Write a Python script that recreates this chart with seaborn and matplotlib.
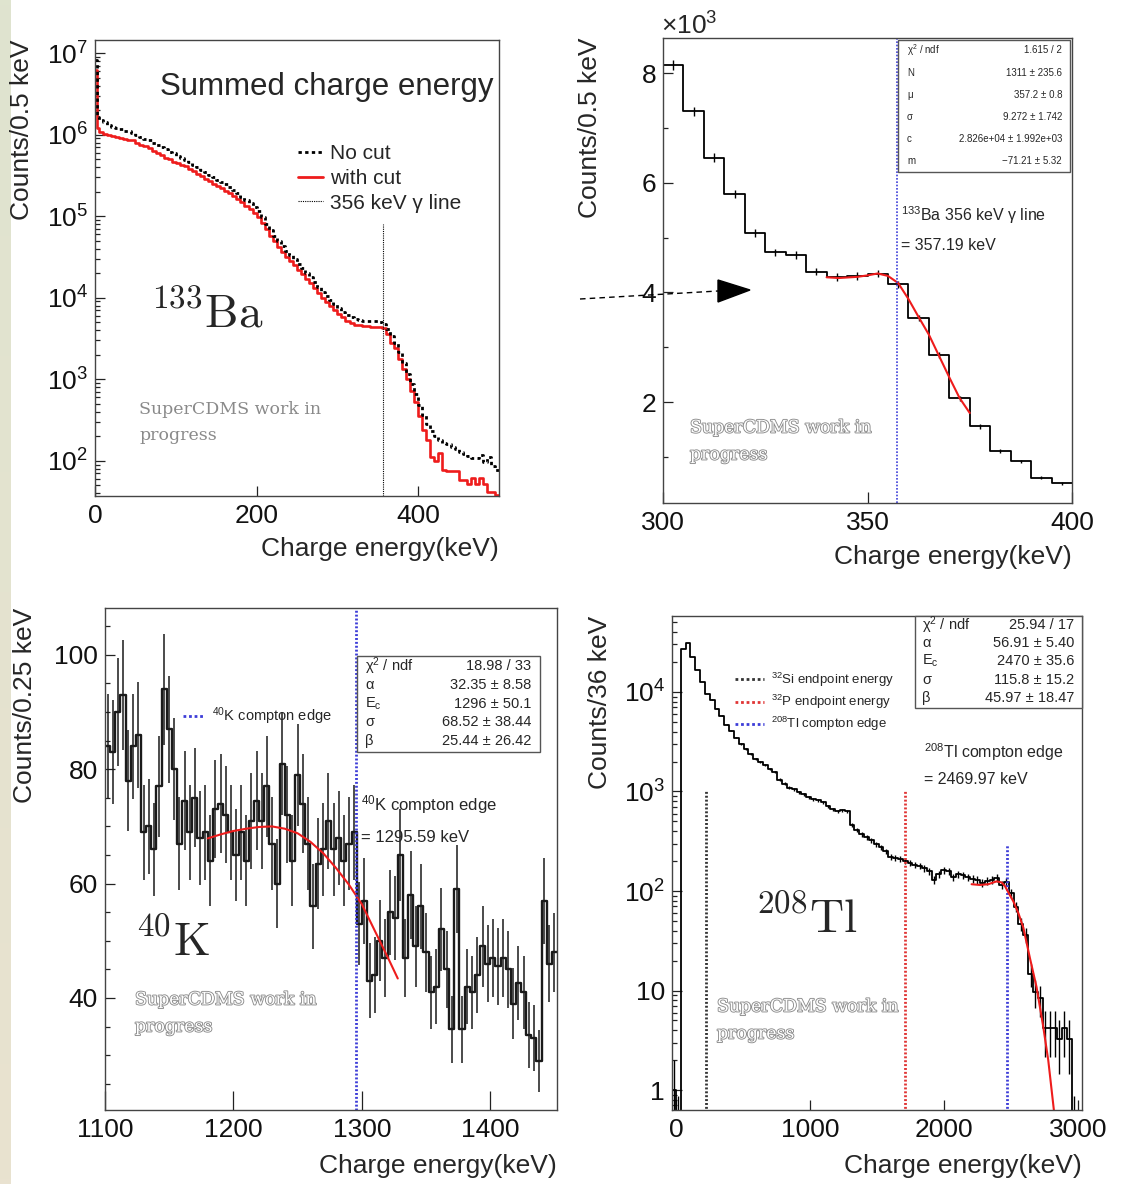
import numpy as np
import matplotlib
matplotlib.use("Agg")
import matplotlib.pyplot as plt
import matplotlib.patheffects as pe
from matplotlib.colors import LinearSegmentedColormap
from matplotlib.lines import Line2D
from matplotlib.patches import Polygon, Rectangle
from matplotlib.ticker import FuncFormatter, LogLocator, MultipleLocator, NullFormatter, NullLocator
import seaborn as sns

# ==========================================
# Data
# ==========================================

# --- 133Ba summed charge energy (log10 counts / bin) ---
ba_edges = [0, 2] + list(range(5, 505, 5))
ba_cut_log = [6.79, 6.08,
              6.03, 6.01, 6.00, 5.98, 5.97, 5.96, 5.95, 5.94, 5.93, 5.90,
              5.87, 5.86, 5.84, 5.80, 5.78, 5.75, 5.72, 5.70, 5.67, 5.65,
              5.63, 5.61, 5.58, 5.55, 5.52, 5.49, 5.46, 5.43, 5.40, 5.37,
              5.34, 5.31, 5.28, 5.25, 5.21, 5.17, 5.13, 5.09, 5.04, 4.99,
              4.92, 4.84, 4.76, 4.69, 4.62, 4.56, 4.50, 4.45, 4.40, 4.34,
              4.29, 4.23, 4.18, 4.12, 4.06, 4.00, 3.95, 3.90, 3.85, 3.80,
              3.76, 3.72, 3.69, 3.67, 3.66, 3.65, 3.65, 3.64, 3.64, 3.64,
              3.63, 3.55, 3.45, 3.38, 3.25, 3.12, 3.00, 2.86, 2.72, 2.55,
              2.38, 2.25, 2.05, 2.00, 2.10, 1.89, 1.88, 1.87, 1.87, 1.77,
              1.77, 1.71, 1.79, 1.71, 1.79, 1.71, 1.62, 1.62, 1.58]
ba_nocut_log = [6.92, 6.22,
                6.18, 6.15, 6.12, 6.10, 6.08, 6.07, 6.05, 6.04, 6.02, 6.00,
                5.97, 5.95, 5.93, 5.90, 5.87, 5.85, 5.82, 5.79, 5.77, 5.74,
                5.72, 5.69, 5.66, 5.63, 5.60, 5.57, 5.54, 5.51, 5.48, 5.45,
                5.42, 5.39, 5.36, 5.32, 5.28, 5.24, 5.20, 5.16, 5.11, 5.06,
                4.99, 4.91, 4.83, 4.76, 4.69, 4.63, 4.57, 4.52, 4.47, 4.41,
                4.36, 4.30, 4.25, 4.19, 4.13, 4.07, 4.02, 3.97, 3.92, 3.87,
                3.83, 3.79, 3.76, 3.74, 3.73, 3.72, 3.72, 3.71, 3.71, 3.70,
                3.68, 3.62, 3.53, 3.45, 3.33, 3.20, 3.07, 2.94, 2.82, 2.68,
                2.56, 2.45, 2.36, 2.30, 2.26, 2.22, 2.20, 2.17, 2.14, 2.11,
                2.08, 2.06, 2.04, 2.03, 2.07, 1.98, 2.05, 1.94, 1.89]
ba_gamma = 356
ba_gamma_top = 8e4

# --- 133Ba zoom, 300-400 keV ---
bz_edges = list(range(300, 405, 5))
bz_counts = [8150, 7300, 6460, 5800, 5090, 4730, 4680, 4380, 4280, 4300,
             4340, 4150, 3530, 2850, 2070, 1555, 1110, 915, 620, 515]
bz_fit_x = [340, 343, 347.5, 350, 352.5, 355, 357.5, 360, 362.5, 365, 367.5, 370, 372.5, 375]
bz_fit_y = [4275, 4262, 4283, 4310, 4345, 4300, 4170, 3880, 3550, 3230, 2840, 2450, 2075, 1800]
bz_mu = 357.19
bz_stats = [("χ$\\mathregular{^2}$ / ndf", "1.615 / 2"), ("N", "1311 ± 235.6"),
            ("μ", "357.2 ± 0.8"), ("σ", "9.272 ± 1.742"),
            ("c", "2.826e+04 ± 1.992e+03"), ("m", "−71.21 ± 5.32")]

# --- 40K compton edge ---
k_edges = list(range(1100, 1456, 4))
k_counts = [84, 83, 90, 93, 78, 84, 86, 69, 70, 66,
            77, 94, 87, 80, 67, 74.5, 69, 75, 68, 69,
            64, 73, 74, 72, 69, 65, 69, 64,
            71, 74.5, 71, 77, 67, 60, 81, 72, 64, 79,
            74, 67, 56, 63.5, 66, 71, 66, 68, 64, 67,
            69, 53, 57, 43, 44, 50, 47, 55, 54, 65,
            47, 58,
            49, 56, 48, 41, 42, 52, 45, 34.5, 59, 34.5,
            42, 41, 44, 49, 46, 47, 45.5, 47, 45, 39,
            42.6, 41, 33.5, 33, 29, 57, 46, 48]
k_fit_x = [1180, 1190, 1200, 1210, 1220, 1230, 1240, 1250, 1260, 1270, 1280, 1290, 1300, 1310, 1320, 1328]
k_fit_y = [67.9, 68.6, 69.2, 69.6, 69.9, 70.0, 69.6, 68.8, 67.3, 65.3, 62.7, 59.8, 56.4, 51.8, 47.2, 43.4]
k_edge = 1295.59
k_stats = [("χ$\\mathregular{^2}$ / ndf", "18.98 / 33"), ("α", "32.35 ± 8.58"),
           ("E$\\mathregular{_c}$", "1296 ± 50.1"), ("σ", "68.52 ± 38.44"), ("β", "25.44 ± 26.42")]

# --- 208Tl spectrum (log10 counts / 36 keV) ---
tl_edges = list(range(-36, 2989, 36))
tl_log = [0.0, -0.5,
          4.43, 4.49, 4.35, 4.22, 4.10, 3.98, 3.92, 3.83, 3.76, 3.67,
          3.61, 3.54, 3.48, 3.43, 3.38, 3.33, 3.30, 3.27, 3.23, 3.20,
          3.12, 3.08, 3.04, 3.02, 2.99, 2.97, 2.94, 2.92, 2.91, 2.89,
          2.85, 2.82, 2.80, 2.81, 2.80, 2.66, 2.61, 2.57, 2.54, 2.51,
          2.47, 2.44, 2.40,
          2.34, 2.33, 2.32, 2.30, 2.28, 2.26, 2.25, 2.23, 2.20, 2.11,
          2.17, 2.21, 2.20, 2.14, 2.17, 2.16, 2.14, 2.12, 2.11, 2.08,
          2.10, 2.11, 2.13, 2.06, 2.09, 1.98, 1.84, 1.67, 1.56, 1.17,
          0.99, 0.92, 0.62, 0.62, 0.62, 0.51, 0.62, 0.51,
          -0.5]
tl_fit_x = [2206, 2268, 2330, 2393, 2430, 2455, 2480, 2517, 2555, 2592, 2642, 2691, 2741, 2778, 2825]
tl_fit_y = [117, 115, 117, 125, 122, 112, 97, 79, 60, 43, 21, 10.8, 4.3, 2.0, 0.55]
tl_markers = [("$\\mathregular{^{32}}$Si endpoint energy", 227, 1000, "#333333"),
              ("$\\mathregular{^{32}}$P endpoint energy", 1710, 1000, "#e03535"),
              ("$\\mathregular{^{208}}$Tl compton edge", 2470, 290, "#3d3dd8")]
tl_stats = [("χ$\\mathregular{^2}$ / ndf", "25.94 / 17"), ("α", "56.91 ± 5.40"),
            ("E$\\mathregular{_c}$", "2470 ± 35.6"), ("σ", "115.8 ± 15.2"), ("β", "45.97 ± 18.47")]

RED = "#ee1c1c"
BLUE = "#3d3dd8"
DOTS = (0, (1, 1))
TICK_FS = 19
TITLE_FS = 19

sns.set_theme(style="ticks")
plt.rcParams["font.family"] = ["Liberation Sans", "DejaVu Sans"]
plt.rcParams["mathtext.fontset"] = "cm"

W, H = 1144, 1184
fig = plt.figure(figsize=(W / 100, H / 100), dpi=100)
fig.patch.set_facecolor("white")


def rect(l, t, r, b):
    return [l / W, 1 - b / H, (r - l) / W, (b - t) / H]


def ftext(x, y, s, **kw):
    kw.setdefault("va", "center")
    return fig.text(x / W, 1 - y / H, s, **kw)


def mids(edges):
    e = np.asarray(edges, dtype=float)
    return (e[:-1] + e[1:]) / 2


def root_style(ax, xlen=7, ylen=7):
    ax.set_facecolor("white")
    ax.tick_params(which="both", direction="in", top=False, right=False,
                   color="#222222", width=0.9, labelcolor="#111111")
    ax.tick_params(axis="x", which="major", length=xlen, pad=6, labelsize=TICK_FS)
    ax.tick_params(axis="y", which="major", length=ylen, pad=5, labelsize=TICK_FS)
    ax.tick_params(which="minor", length=3.5)
    for sp in ax.spines.values():
        sp.set_visible(True)
        sp.set_color("#444444")
        sp.set_linewidth(1.0)


def axis_titles(ax, ylabel, ylx, xly):
    ax.set_xlabel("Charge energy(keV)", fontsize=TITLE_FS, loc="right")
    ax.set_ylabel(ylabel, fontsize=TITLE_FS, loc="top")
    ax.xaxis.set_label_coords(1.0, xly)
    ax.yaxis.set_label_coords(ylx, 1.0)
    ax.xaxis.label.set_va("center")
    ax.yaxis.label.set_va("center")


def stat_box(l, t, r, b, rows, row_y, lx, rx, size):
    fig.add_artist(Rectangle((l / W, 1 - b / H), (r - l) / W, (b - t) / H,
                             transform=fig.transFigure, facecolor="white",
                             edgecolor="#555555", lw=1.0, zorder=5))
    for (lab, val), y in zip(rows, row_y):
        ftext(lx, y, lab, ha="left", fontsize=size, zorder=6)
        ftext(rx, y, val, ha="right", fontsize=size, zorder=6)


def watermark(x, y, outline=True):
    kw = dict(family=["DejaVu Serif"], fontsize=12.5, ha="left")
    if outline:
        kw.update(color="white", path_effects=[pe.withStroke(linewidth=1.3, foreground="#8c8c8c")])
    else:
        kw.update(color="#8a8a8a")
    ftext(x, y, "SuperCDMS work in", **kw)
    ftext(x, y + 27, "progress", **kw)


# --- left decorative strip ---
strip = fig.add_axes([0, 0, 11 / W, 1])
strip.imshow(np.linspace(0, 1, 256)[:, None], aspect="auto",
             cmap=LinearSegmentedColormap.from_list("strip", ["#dfe4cf", "#e9e2d0"]))
strip.axis("off")

# ==========================================
# Panel 1: summed charge energy, 133Ba
# ==========================================
ax1 = fig.add_axes(rect(95, 40, 499, 496))
sns.histplot(x=mids(ba_edges), weights=10 ** np.array(ba_cut_log), bins=ba_edges,
             element="step", fill=False, color=RED, linewidth=1.9, ax=ax1)
sns.histplot(x=mids(ba_edges), weights=10 ** np.array(ba_nocut_log), bins=ba_edges,
             element="step", fill=False, color="black", linewidth=2.0,
             linestyle=(0, (1.2, 1.2)), ax=ax1)
ax1.set_yscale("log")
ax1.set_xlim(0, 500)
ax1.set_ylim(37, 1.45e7)
ax1.vlines(ba_gamma, 37, ba_gamma_top, colors="black", linestyles=DOTS, lw=0.8)
ax1.set_xticks([0, 200, 400])
ax1.xaxis.set_minor_locator(NullLocator())
ax1.yaxis.set_major_locator(LogLocator(base=10, numticks=20))
ax1.yaxis.set_minor_locator(LogLocator(base=10, subs=range(2, 10), numticks=60))
ax1.yaxis.set_minor_formatter(NullFormatter())
root_style(ax1)
axis_titles(ax1, "Counts/0.5 keV", -0.181, -0.116)
handles = [Line2D([], [], color="black", lw=2.0, ls=(0, (1.2, 1.2))),
           Line2D([], [], color=RED, lw=2.0),
           Line2D([], [], color="black", lw=0.8, ls=DOTS)]
ax1.legend(handles, ["No cut", "with cut", "356 keV γ line"], loc="upper left",
           bbox_to_anchor=(0.502, 0.772), frameon=False, fontsize=15,
           handlelength=1.2, handletextpad=0.35, labelspacing=0.28,
           borderpad=0, borderaxespad=0)
ftext(160, 87, "Summed charge energy", fontsize=22.5)
ftext(150, 327, r"$^{133}\mathrm{Ba}$", fontsize=34, va="baseline")
watermark(139, 409, outline=False)

# ==========================================
# Panel 2: fit around the 356 keV line
# ==========================================
ax2 = fig.add_axes(rect(663, 38, 1072, 503))
sns.histplot(x=mids(bz_edges), weights=bz_counts, bins=bz_edges,
             element="step", fill=False, color="black", linewidth=1.3, ax=ax2)
ax2.errorbar(mids(bz_edges), bz_counts, yerr=np.sqrt(bz_counts), fmt="none",
             ecolor="black", elinewidth=1.0)
sns.lineplot(x=bz_fit_x, y=bz_fit_y, color=RED, linewidth=1.5, ax=ax2)
ax2.axvline(bz_mu, color=BLUE, ls=DOTS, lw=1.2)
ax2.set_xlim(300, 400)
ax2.set_ylim(158, 8640)
ax2.set_xticks([300, 350, 400])
ax2.set_yticks([2000, 4000, 6000, 8000])
ax2.yaxis.set_minor_locator(MultipleLocator(1000))
ax2.yaxis.set_major_formatter(FuncFormatter(lambda v, p: f"{v / 1000:g}"))
root_style(ax2, xlen=8)
axis_titles(ax2, "Counts/0.5 keV", -0.178, -0.116)
ftext(661, 26, "×$\\mathregular{10^{3}}$", fontsize=19, ha="left")
ftext(901, 215, "$\\mathregular{^{133}}$Ba 356 keV γ line", fontsize=11.5, ha="left")
ftext(901, 245, "= 357.19 keV", fontsize=11.5, ha="left")
stat_box(898, 40, 1070, 172, bz_stats, [50, 73, 95, 117, 139, 161], 907, 1062, 7)
fig.add_artist(Line2D([580 / W, 718 / W], [1 - 299 / H, 1 - 291 / H], transform=fig.transFigure,
                      color="black", lw=1.0, ls=(0, (4, 3))))
fig.add_artist(Polygon([[718 / W, 1 - 280 / H], [750 / W, 1 - 290 / H], [718 / W, 1 - 302 / H]],
                       closed=True, transform=fig.transFigure, color="black"))
watermark(690, 428)

# ==========================================
# Panel 3: 40K compton edge
# ==========================================
ax3 = fig.add_axes(rect(105, 608, 557, 1110))
sns.histplot(x=mids(k_edges), weights=k_counts, bins=k_edges,
             element="step", fill=False, color="#1a1a1a", linewidth=1.7, ax=ax3)
ax3.errorbar(mids(k_edges), k_counts, yerr=np.sqrt(k_counts), fmt="none",
             ecolor="#1a1a1a", elinewidth=1.1)
sns.lineplot(x=k_fit_x, y=k_fit_y, color=RED, linewidth=1.5, ax=ax3)
ax3.axvline(k_edge, color=BLUE, ls=(0, (0.7, 0.7)), lw=2.0)
ax3.set_xlim(1100, 1452)
ax3.set_ylim(20.4, 108.2)
ax3.set_xticks([1100, 1200, 1300, 1400])
ax3.set_yticks([40, 60, 80, 100])
ax3.yaxis.set_minor_locator(MultipleLocator(5))
root_style(ax3, xlen=14)
axis_titles(ax3, "Counts/0.25 keV", -0.177, -0.112)
ax3.legend([Line2D([], [], color=BLUE, lw=2, ls=DOTS)], ["$\\mathregular{^{40}}$K compton edge"],
           loc="upper left", bbox_to_anchor=(0.173, 0.805), frameon=False, fontsize=10.5,
           handlelength=1.5, handletextpad=0.45, borderpad=0, borderaxespad=0)
stat_box(357, 656, 540, 752, k_stats, [666, 685, 704, 722, 741], 365, 531, 10.5)
ftext(361, 805, "$\\mathregular{^{40}}$K compton edge", fontsize=12, ha="left")
ftext(361, 838, "= 1295.59 keV", fontsize=12, ha="left")
ftext(135, 955, r"$^{40}\mathrm{K}$", fontsize=34, va="baseline")
watermark(135, 1000)

# ==========================================
# Panel 4: 208Tl compton edge
# ==========================================
ax4 = fig.add_axes(rect(672, 616, 1082, 1110))
tl_counts = 10 ** np.array(tl_log)
sns.histplot(x=mids(tl_edges), weights=tl_counts, bins=tl_edges,
             element="step", fill=False, color="black", linewidth=1.3, ax=ax4)
ax4.set_yscale("log")
ax4.errorbar(mids(tl_edges), tl_counts, yerr=np.sqrt(tl_counts), fmt="none",
             ecolor="black", elinewidth=1.0)
for lab, xv, top, col in tl_markers:
    ax4.vlines(xv, 0.5, top, colors=col, linestyles=(0, (0.7, 0.7)), lw=2.0)
sns.lineplot(x=tl_fit_x, y=tl_fit_y, color=RED, linewidth=1.5, ax=ax4)
ax4.set_xlim(-30, 3030)
ax4.set_ylim(0.63, 5.8e4)
ax4.set_xticks([0, 1000, 2000, 3000])
ax4.yaxis.set_major_locator(LogLocator(base=10, numticks=20))
ax4.yaxis.set_minor_locator(LogLocator(base=10, subs=range(2, 10), numticks=60))
ax4.yaxis.set_minor_formatter(NullFormatter())
ax4.yaxis.set_major_formatter(FuncFormatter(
    lambda v, p: "1" if v == 1 else ("10" if v == 10 else f"$\\mathregular{{10^{{{int(round(np.log10(v)))}}}}}$")))
root_style(ax4)
axis_titles(ax4, "Counts/36 keV", -0.176, -0.113)
ax4.legend([Line2D([], [], color=c, lw=2, ls=DOTS) for _, _, _, c in tl_markers],
           [lab for lab, _, _, _ in tl_markers], loc="upper left",
           bbox_to_anchor=(0.154, 0.889), frameon=False, fontsize=9.5,
           handlelength=2.2, handletextpad=0.5, labelspacing=0.3, borderpad=0, borderaxespad=0)
stat_box(915, 616, 1082, 708, tl_stats, [625, 643, 661, 680, 698], 922, 1074, 10.5)
ftext(924, 752, "$\\mathregular{^{208}}$Tl compton edge", fontsize=11.5, ha="left")
ftext(924, 779, "= 2469.97 keV", fontsize=11.5, ha="left")
ftext(755, 932, r"$^{208}\mathrm{Tl}$", fontsize=34, va="baseline")
watermark(717, 1007)

fig.savefig("out.png", dpi=100, facecolor="white")
